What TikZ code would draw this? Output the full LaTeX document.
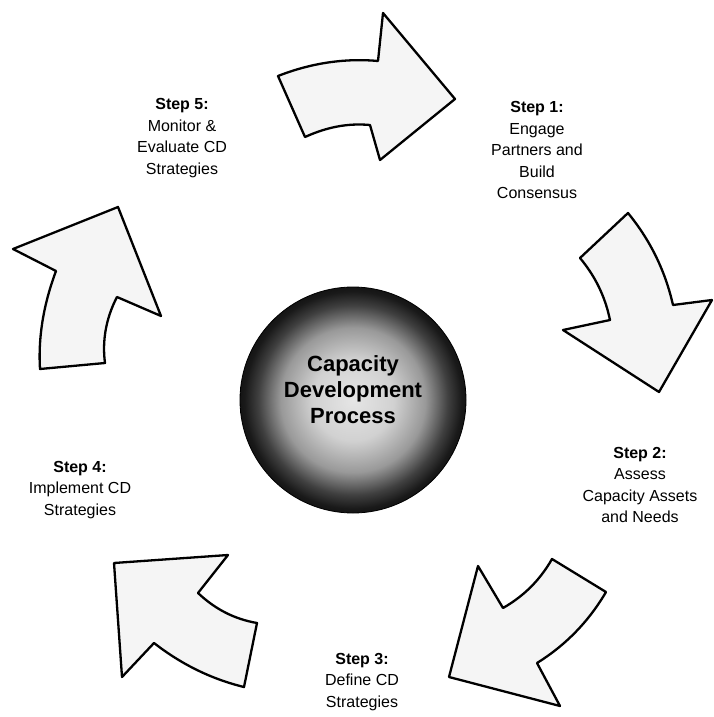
\documentclass[tikz,border=0pt]{standalone}
\usepackage{fontspec}
\setmainfont{Liberation Sans}
\pgfdeclareradialshading{ballshade}{\pgfpoint{0bp}{0bp}}{color(0bp)=(black!10); color(9bp)=(black!18); color(16bp)=(black!40); color(21bp)=(black!75); color(24bp)=(black!90); color(25bp)=(black!92); color(50bp)=(black!92)}
\begin{document}
\begin{tikzpicture}[x=1pt,y=-1pt,
  arrowshape/.style={draw=black, line width=2.3pt, line join=round, fill=white!96!black},
  steptext/.style={align=center, font=\fontsize{16}{21.5}\selectfont},
  hubtext/.style={align=center, font=\fontsize{22}{26}\selectfont\bfseries}]
\useasboundingbox (0,0) rectangle (713,717);
\fill[white] (0,0) rectangle (713,717);

% Arrow 1 (top, pointing right)
\path[arrowshape] (278,76) .. controls (311,63) and (345,58) .. (378,61)
  -- (383,13) -- (455,99) -- (380,160) -- (370,125)
  .. controls (348,123) and (327,127) .. (305,137) -- cycle;

% Arrow 2 (right, pointing down)
\path[arrowshape] (580,258) -- (628,213) .. controls (650,240) and (665,270) .. (673,305)
  -- (712,300) -- (659,392) -- (563,330) -- (610,320)
  .. controls (605,296) and (595,276) .. (580,258) -- cycle;

% Arrow 3 (bottom right, pointing down-left)
\path[arrowshape] (552,559) -- (606,592) .. controls (589,621) and (566,645) .. (537,663)
  -- (560,706) -- (449,677) -- (478,566) -- (503,608)
  .. controls (524,596) and (540,580) .. (552,559) -- cycle;

% Arrow 4 (bottom left, pointing up-left)
\path[arrowshape] (114,563) -- (228,555) -- (198,593)
  .. controls (215,609) and (234,619) .. (257,623) -- (244,687)
  .. controls (211,679) and (181,664) .. (154,643) -- (122,677) -- cycle;

% Arrow 5 (left, pointing up)
\path[arrowshape] (118,207) -- (161,316) -- (117,297)
  .. controls (106,318) and (102,341) .. (105,363) -- (40,369)
  .. controls (38,336) and (44,303) .. (56,271) -- (13,249) -- cycle;

% Hub
\node[circle, minimum size=226pt, inner sep=0pt, shade, shading=ballshade, draw=black, line width=0.8pt] (hub) at (353,400) {};
\node[hubtext] (hublabel) at (353,390) {Capacity\\Development\\Process};

% Step texts
\node[steptext] (s1) at (537,150) {\textbf{Step 1:}\\Engage\\Partners and\\Build\\Consensus};
\node[steptext] (s2) at (640,485) {\textbf{Step 2:}\\Assess\\Capacity Assets\\and Needs};
\node[steptext] (s3) at (362,682) {\textbf{Step 3:}\\Define CD\\Strategies};
\node[steptext] (s4) at (80,490) {\textbf{Step 4:}\\Implement CD\\Strategies};
\node[steptext] (s5) at (182,138) {\textbf{Step 5:}\\Monitor \&\\Evaluate CD\\Strategies};
\end{tikzpicture}
\end{document}
